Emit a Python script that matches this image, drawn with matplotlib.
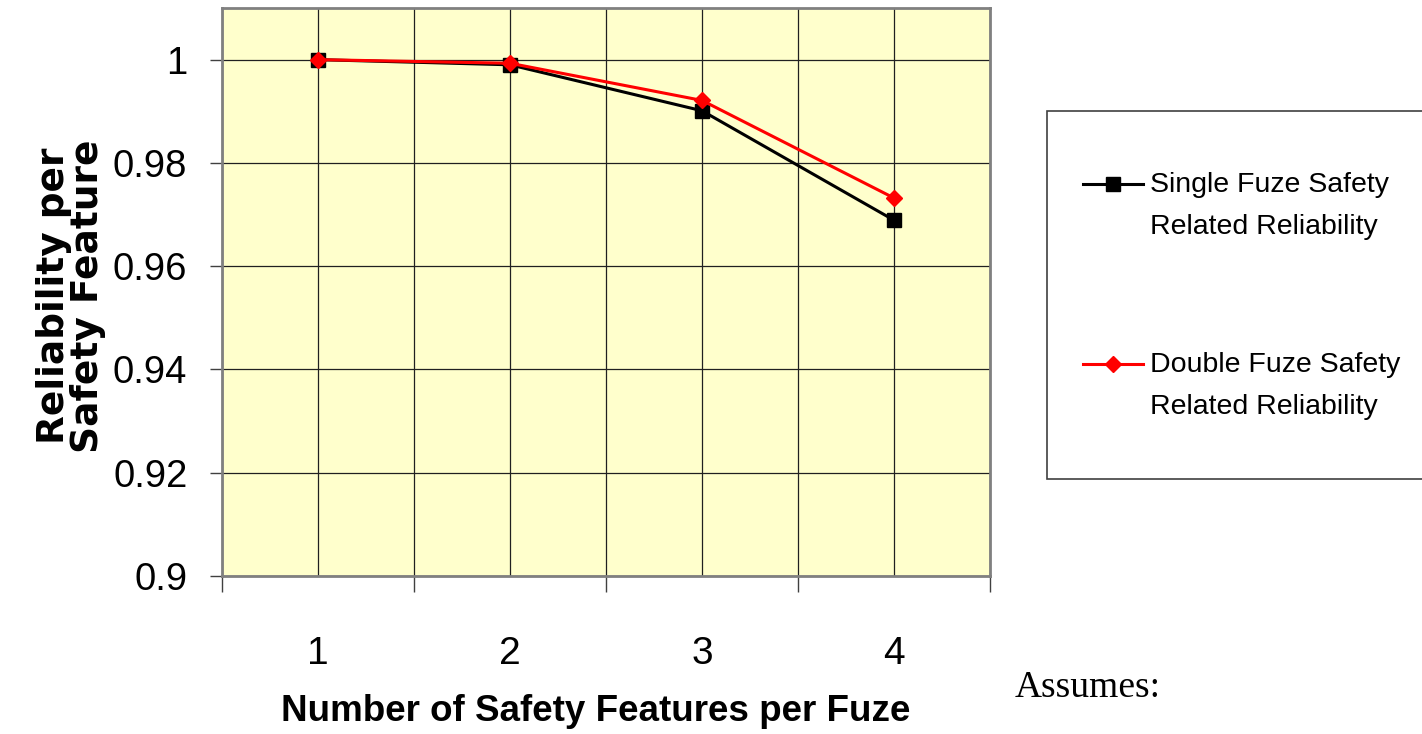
import matplotlib
matplotlib.use("Agg")
import matplotlib.pyplot as plt
from matplotlib.patches import Rectangle
from matplotlib.ticker import FixedLocator

# values
features = [1, 2, 3, 4]
single_fuze = [1.0000, 0.9990, 0.9901, 0.9689]
double_fuze = [1.0000, 0.9993, 0.9921, 0.9732]
y_ticks = [0.9, 0.92, 0.94, 0.96, 0.98, 1.0]
y_tick_labels = ["0.9", "0.92", "0.94", "0.96", "0.98", "1"]
labels = ["Single Fuze Safety\nRelated Reliability",
          "Double Fuze Safety\nRelated Reliability"]

SANS = ["Liberation Sans", "DejaVu Sans"]

W, H = 1422, 734
fig = plt.figure(figsize=(W / 100, H / 100), dpi=100)
ax = fig.add_axes([222 / W, 1 - 576 / H, 768 / W, 568 / H])
ax.set_facecolor("#FFFFCC")

ax.plot(features, single_fuze, color="black", lw=2.2, marker="s", ms=10,
        label=labels[0], zorder=3)
ax.plot(features, double_fuze, color="red", lw=2.2, marker="D", ms=8,
        label=labels[1], zorder=4)

ax.set_xlim(0.5, 4.5)
ax.set_ylim(0.9, 1.01)

ax.xaxis.set_major_locator(FixedLocator(features))
ax.xaxis.set_minor_locator(FixedLocator([0.5, 1.5, 2.5, 3.5, 4.5]))
ax.set_xticklabels([str(f) for f in features])
ax.tick_params(axis="x", which="major", length=0, pad=43, labelsize=28)
ax.tick_params(axis="x", which="minor", length=11.5, width=1, direction="out",
               color="#404040")
ax.set_yticks(y_ticks)
ax.set_yticklabels(y_tick_labels)
ax.tick_params(axis="y", length=9, width=1, direction="out", pad=16,
               labelsize=27.5, color="#404040")
for lab in ax.get_xticklabels() + ax.get_yticklabels():
    lab.set_family(SANS)

ax.grid(True, which="major", color="#202020", lw=0.9)
ax.grid(True, which="minor", axis="x", color="#202020", lw=0.9)
ax.set_axisbelow(True)
for s in ax.spines.values():
    s.set_color("#808080")
    s.set_linewidth(2)

ax.set_xlabel("Number of Safety Features per Fuze", family=SANS,
              fontweight="bold", fontsize=26.5, labelpad=16, x=0.486)
fig.text(71 / W, 1 - 296 / H, "Reliability per\nSafety Feature",
         rotation=90, ha="center", va="center", multialignment="center",
         fontsize=27, fontweight="bold", family="DejaVu Sans", linespacing=0.92)

# legend box
fig.patches.append(Rectangle((1047 / W, 1 - 479 / H), 400 / W, 368 / H,
                             transform=fig.transFigure, facecolor="white",
                             edgecolor="#404040", lw=1.2, zorder=-1))
leg_size = 20.5
leg = ax.legend(loc="upper left", bbox_to_anchor=(1069 / W, 1 - 158 / H),
                bbox_transform=fig.transFigure, frameon=False,
                prop={"family": SANS, "size": leg_size}, handlelength=2.1,
                handletextpad=0.25, labelspacing=3.95, borderpad=0)
for t in leg.get_texts():
    t.set_linespacing(1.77)
# put the key line level with the first text line, as in the original
for h in leg.legend_handles:
    h.set_ydata([y + leg_size * 0.78 for y in h.get_ydata()])

fig.text(1015 / W, 1 - 688 / H, "Assumes:", family="Liberation Serif",
         fontsize=27, ha="left", va="center")

fig.savefig("out.png", dpi=100)
